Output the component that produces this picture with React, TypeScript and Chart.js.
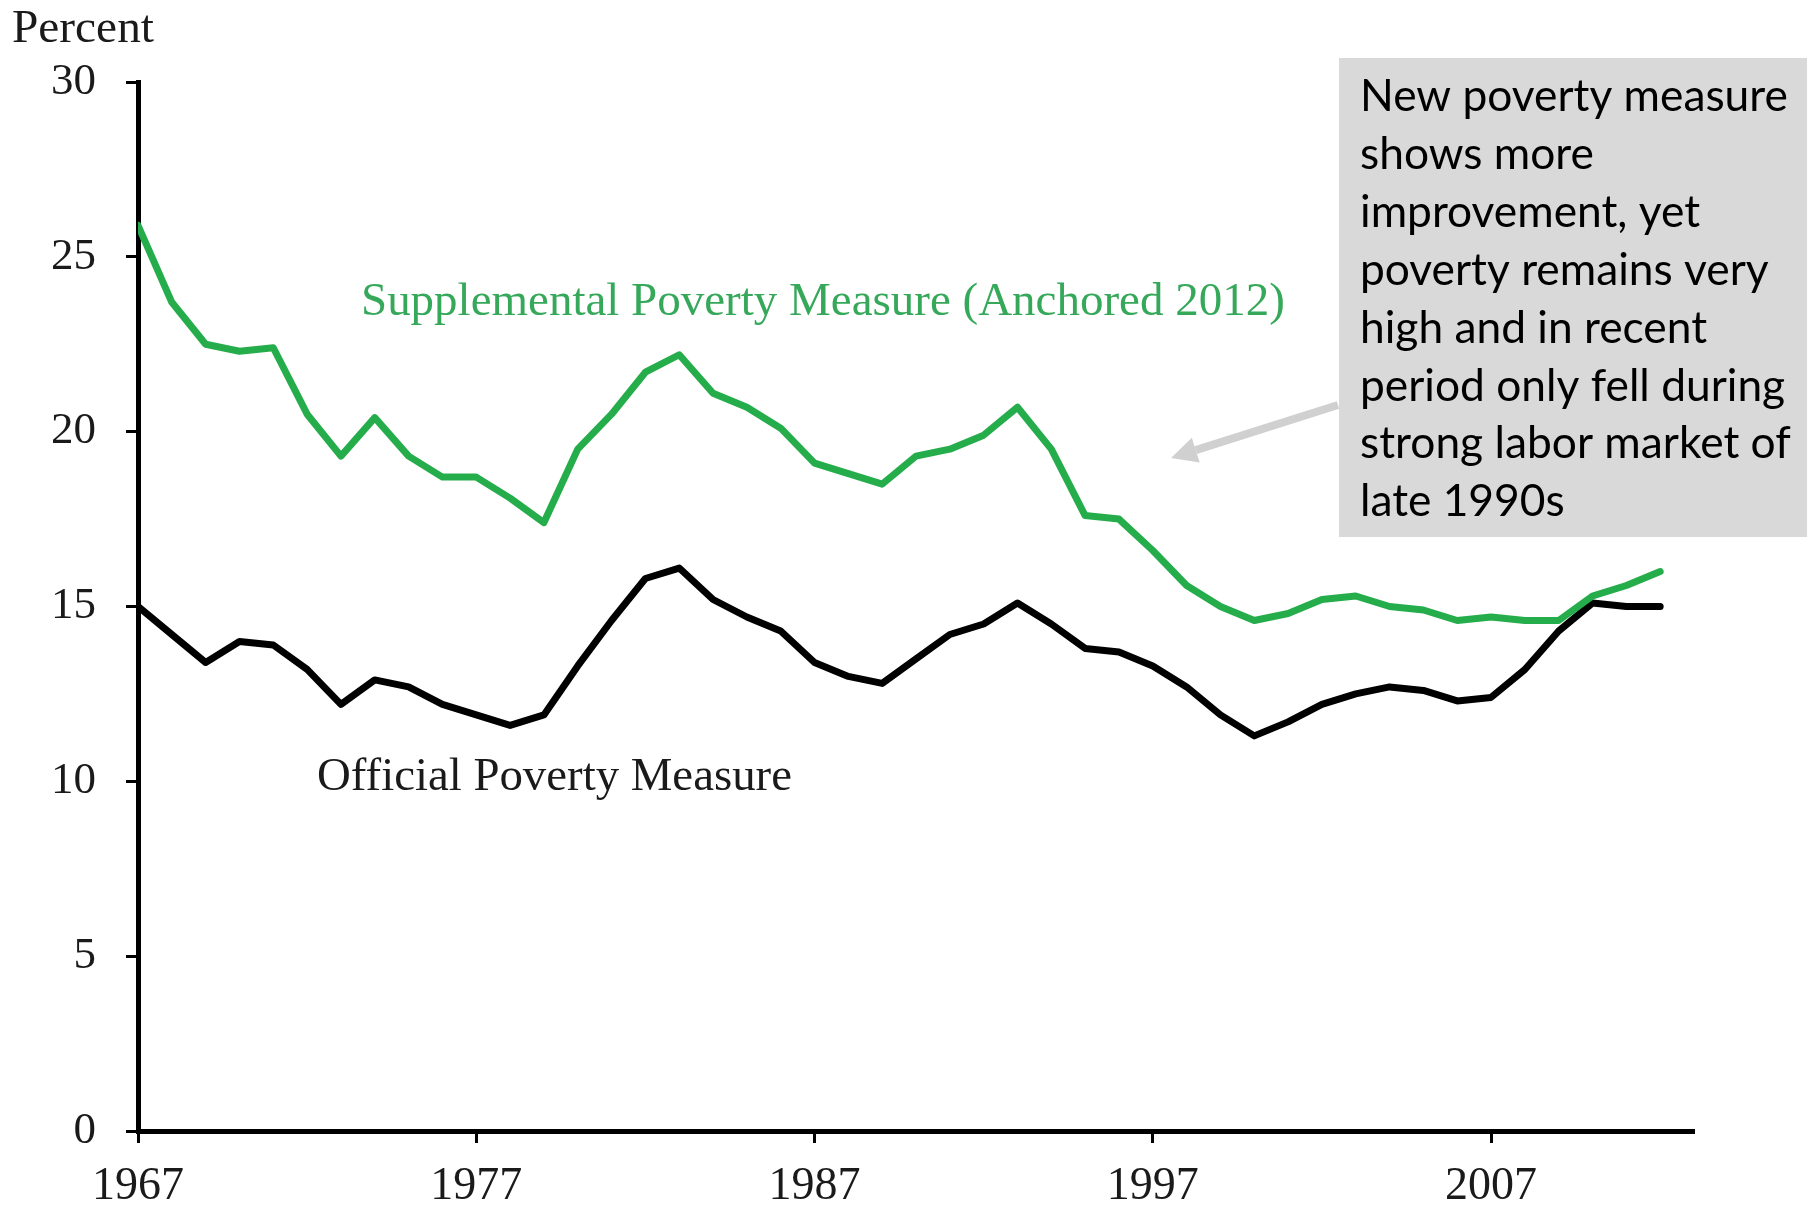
import React, { useEffect, useRef } from "react";
import { Chart, registerables } from "chart.js";

Chart.register(...registerables);

const years = [
  1967, 1968, 1969, 1970, 1971, 1972, 1973, 1974, 1975, 1976,
  1977, 1978, 1979, 1980, 1981, 1982, 1983, 1984, 1985, 1986,
  1987, 1988, 1989, 1990, 1991, 1992, 1993, 1994, 1995, 1996,
  1997, 1998, 1999, 2000, 2001, 2002, 2003, 2004, 2005, 2006,
  2007, 2008, 2009, 2010, 2011, 2012,
];

const supplemental = [
  25.9, 23.7, 22.5, 22.3, 22.4, 20.5, 19.3, 20.4, 19.3, 18.7,
  18.7, 18.1, 17.4, 19.5, 20.5, 21.7, 22.2, 21.1, 20.7, 20.1,
  19.1, 18.8, 18.5, 19.3, 19.5, 19.9, 20.7, 19.5, 17.6, 17.5,
  16.6, 15.6, 15.0, 14.6, 14.8, 15.2, 15.3, 15.0, 14.9, 14.6,
  14.7, 14.6, 14.6, 15.3, 15.6, 16.0,
];

const official = [
  15.0, 14.2, 13.4, 14.0, 13.9, 13.2, 12.2, 12.9, 12.7, 12.2,
  11.9, 11.6, 11.9, 13.3, 14.6, 15.8, 16.1, 15.2, 14.7, 14.3,
  13.4, 13.0, 12.8, 13.5, 14.2, 14.5, 15.1, 14.5, 13.8, 13.7,
  13.3, 12.7, 11.9, 11.3, 11.7, 12.2, 12.5, 12.7, 12.6, 12.3,
  12.4, 13.2, 14.3, 15.1, 15.0, 15.0,
];

const xTickYears = [1967, 1977, 1987, 1997, 2007];
const yTickValues = [0, 5, 10, 15, 20, 25, 30];

const yAxisTitle = "Percent";
const supplementalLabel = "Supplemental Poverty Measure (Anchored 2012)";
const officialLabel = "Official Poverty Measure";
const noteLines = [
  "New poverty measure",
  "shows more",
  "improvement, yet",
  "poverty remains very",
  "high and in recent",
  "period only fell during",
  "strong labor market of",
  "late 1990s",
];

const GREEN = "#26ad4b";
const GREEN_TEXT = "#36a85a";
const SERIF = "'Liberation Serif', 'Times New Roman', serif";

function fitFont(ctx: CanvasRenderingContext2D, text: string, family: string, targetWidth: number) {
  ctx.font = `100px ${family}`;
  const w = ctx.measureText(text).width;
  return (100 * targetWidth) / w;
}

const annotationPlugin = {
  id: "annotations",
  afterDraw(chart: any) {
    const ctx: CanvasRenderingContext2D = chart.ctx;
    ctx.save();

    // "Percent" title
    ctx.fillStyle = "#1a1a1a";
    ctx.textAlign = "left";
    ctx.textBaseline = "alphabetic";
    let fs = fitFont(ctx, yAxisTitle, SERIF, 142);
    ctx.font = `${fs}px ${SERIF}`;
    ctx.fillText(yAxisTitle, 4, 34);

    // Series labels
    fs = fitFont(ctx, supplementalLabel, SERIF, 924);
    ctx.font = `${fs}px ${SERIF}`;
    ctx.fillStyle = GREEN_TEXT;
    ctx.fillText(supplementalLabel, 353, 307);

    fs = fitFont(ctx, officialLabel, SERIF, 475);
    ctx.font = `${fs}px ${SERIF}`;
    ctx.fillStyle = "#1a1a1a";
    ctx.fillText(officialLabel, 309, 782);

    // Arrow
    ctx.strokeStyle = "#d0d0d0";
    ctx.fillStyle = "#d0d0d0";
    ctx.lineWidth = 8;
    const x0 = 1330, y0 = 397, x1 = 1163, y1 = 450;
    const ang = Math.atan2(y1 - y0, x1 - x0);
    const headLen = 26;
    const hx = x1 - headLen * Math.cos(ang);
    const hy = y1 - headLen * Math.sin(ang);
    ctx.beginPath();
    ctx.moveTo(x0, y0);
    ctx.lineTo(hx, hy);
    ctx.stroke();
    ctx.beginPath();
    ctx.moveTo(x1, y1);
    ctx.lineTo(hx + 13 * Math.sin(ang), hy - 13 * Math.cos(ang));
    ctx.lineTo(hx - 13 * Math.sin(ang), hy + 13 * Math.cos(ang));
    ctx.closePath();
    ctx.fill();

    // Note box
    ctx.fillStyle = "#d9d9d9";
    ctx.fillRect(1331, 50, 480, 479);
    const noteFamily = "Lato, 'Open Sans', sans-serif";
    fs = fitFont(ctx, noteLines[0], noteFamily, 428);
    ctx.font = `${fs}px ${noteFamily}`;
    ctx.fillStyle = "#000";
    noteLines.forEach((line, i) => {
      ctx.fillText(line, 1352, 103 + i * 57.9);
    });

    ctx.restore();
  },
};

export default function App() {
  const canvasRef = useRef<HTMLCanvasElement | null>(null);

  useEffect(() => {
    const canvas = canvasRef.current;
    if (!canvas) return;
    const chart = new Chart(canvas, {
      type: "line",
      data: {
        datasets: [
          {
            label: supplementalLabel,
            data: years.map((y, i) => ({ x: y, y: supplemental[i] })),
            borderColor: GREEN,
            borderWidth: 7,
            pointRadius: 0,
            tension: 0,
            borderJoinStyle: "round",
            borderCapStyle: "round",
            fill: false,
          },
          {
            label: officialLabel,
            data: years.map((y, i) => ({ x: y, y: official[i] })),
            borderColor: "#000000",
            borderWidth: 7,
            pointRadius: 0,
            tension: 0,
            borderJoinStyle: "round",
            borderCapStyle: "round",
            fill: false,
          },
        ],
      },
      options: {
        responsive: false,
        animation: false,
        devicePixelRatio: 1,
        layout: { padding: { top: 74, right: 113, left: 0, bottom: 0 } },
        plugins: {
          legend: { display: false },
          tooltip: { enabled: false },
          title: { display: false },
        },
        scales: {
          x: {
            type: "linear",
            min: 1967,
            max: 2013,
            afterBuildTicks: (scale: any) => {
              scale.ticks = xTickYears.map((v) => ({ value: v }));
            },
            afterFit: (scale: any) => {
              scale.height = 70;
            },
            grid: {
              display: true,
              drawOnChartArea: false,
              drawTicks: true,
              tickLength: 12,
              tickWidth: 3,
              tickColor: "#000",
            },
            border: { display: true, color: "#000", width: 5 },
            ticks: {
              color: "#1a1a1a",
              font: { family: SERIF, size: 46 },
              padding: 16,
              maxRotation: 0,
              autoSkip: false,
              callback: (v: any) => String(v),
            },
          },
          y: {
            type: "linear",
            min: 0,
            max: 30,
            afterBuildTicks: (scale: any) => {
              scale.ticks = yTickValues.map((v) => ({ value: v }));
            },
            afterFit: (scale: any) => {
              scale.width = 130;
            },
            grid: {
              display: true,
              drawOnChartArea: false,
              drawTicks: true,
              tickLength: 12,
              tickWidth: 3,
              tickColor: "#000",
            },
            border: { display: true, color: "#000", width: 5 },
            ticks: {
              color: "#1a1a1a",
              font: { family: SERIF, size: 45 },
              padding: 30,
              autoSkip: false,
              callback: (v: any) => String(v),
            },
          },
        },
      } as any,
      plugins: [annotationPlugin],
    });
    return () => chart.destroy();
  }, []);

  return (
    <div style={{ width: 1799, height: 1193, background: "#fff" }}>
      <canvas ref={canvasRef} width={1799} height={1193} style={{ display: "block" }} />
    </div>
  );
}
